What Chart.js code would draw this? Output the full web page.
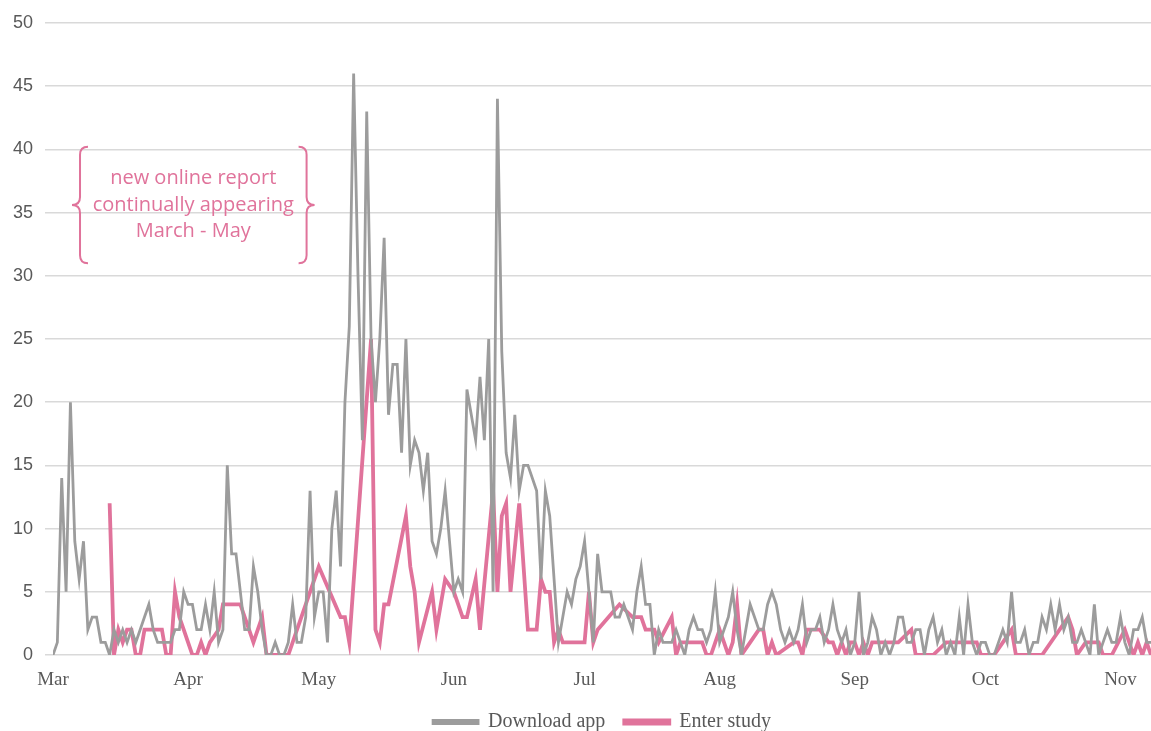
<!DOCTYPE html>
<html>
<head>
<meta charset="utf-8">
<script src="https://cdn.jsdelivr.net/npm/chart.js@4.4.1/dist/chart.umd.min.js"></script>
<style>
  html, body { margin: 0; padding: 0; background: #fff; overflow: hidden; }
  #wrap { width: 1151px; height: 742px; position: relative; }
</style>
</head>
<body>
<div id="wrap"><canvas id="chart-downloads"></canvas></div>
<script>
'use strict';

/* ── Data (one value per day, 1 Mar .. 8 Nov) ───────────────── */
const monthLabels = ['Mar', 'Apr', 'May', 'Jun', 'Jul', 'Aug', 'Sep', 'Oct', 'Nov'];
const monthStartDay = [0, 31, 61, 92, 122, 153, 184, 214, 245];

const downloadApp = [
    0, 1, 14, 5, 20, 9, 6, 9, 2, 3,
    3, 1, 1, 0, 2, 1, 2, 1, 2, 1,
    2, 3, 4, 2, 1, 1, 1, 1, 2, 2,
    5, 4, 4, 2, 2, 4, 2, 5, 1, 2,
    15, 8, 8, 5, 2, 2, 7, 5, 2, 0,
    0, 1, 0, 0, 1, 4, 1, 1, 3, 13,
    3, 5, 5, 1, 10, 13, 7, 20, 26, 46,
    30, 17, 43, 25, 20, 25, 33, 19, 23, 23,
    16, 25, 15, 17, 16, 13, 16, 9, 8, 10,
    13, 9, 5, 6, 5, 21, 19, 17, 22, 17,
    25, 5, 44, 24, 16, 14, 19, 13, 15, 15,
    14, 13, 6, 13, 11, 6, 1, 3, 5, 4,
    6, 7, 9, 5, 1, 8, 5, 5, 5, 3,
    3, 4, 3, 2, 5, 7, 4, 4, 0, 2,
    1, 1, 1, 2, 1, 0, 2, 3, 2, 2,
    1, 2, 5, 1, 2, 3, 5, 2, 0, 2,
    4, 3, 2, 2, 4, 5, 4, 2, 1, 2,
    1, 2, 4, 1, 2, 2, 3, 1, 2, 4,
    2, 1, 2, 0, 1, 5, 0, 1, 3, 2,
    0, 1, 0, 1, 3, 3, 1, 1, 2, 2,
    0, 2, 3, 1, 2, 0, 1, 0, 3, 0,
    4, 1, 0, 1, 1, 0, 0, 1, 2, 1,
    5, 1, 1, 2, 0, 1, 1, 3, 2, 4,
    2, 4, 2, 3, 1, 1, 2, 1, 0, 4,
    0, 1, 2, 1, 1, 3, 1, 0, 2, 2,
    3, 1, 1
];

// null = no entry that day (line is carried straight across)
const enterStudy = [
    null, null, null, null, null, null, null, null, null, null,
    null, null, null, 12, 0, 2, 1, 2, 2, 0,
    0, 2, 2, 2, 2, 2, 0, 0, 5, 3,
    2, 1, 0, 0, 1, 0, 1, null, 2, 4,
    4, 4, 4, 4, 3, 2, 1, 2, 3, 0,
    0, 0, 0, 0, 0, null, null, null, null, null,
    null, 7, null, null, null, null, 3, 3, 1, null,
    null, null, null, 25, 2, 1, 4, 4, null, null,
    null, 11, 7, 5, 1, null, null, 5, 2, null,
    6, null, 5, null, 3, 3, null, 6, 2, null,
    null, 13, 5, 11, 12, 5, null, 12, null, 2,
    2, 2, 6, 5, 5, 1, 2, 1, 1, 1,
    1, 1, 1, 5, 1, 2, null, null, null, null,
    4, null, null, 3, 3, 3, 2, 2, 2, 1,
    null, null, 3, 0, 1, 1, 1, 1, 1, 1,
    0, 0, 1, 2, 1, 0, 1, 4, 0, null,
    1, null, 2, 2, 0, 1, 0, null, null, null,
    1, 1, 0, 2, 2, 2, 2, null, 1, 1,
    0, 1, 0, 1, 1, 0, 1, 0, 1, 1,
    1, 1, 1, 1, 1, null, null, 2, 0, 0,
    0, 0, 0, null, null, 1, 1, 1, 1, 1,
    1, 1, 1, 0, 0, 0, 0, null, 1, null,
    2, 0, 0, 0, 0, 0, 0, 0, null, null,
    null, null, null, 3, 2, 0, null, 1, 1, 1,
    1, 0, 0, 0, null, null, 2, null, 0, 1,
    0, 1, 0
];

const seriesNames = ['Download app', 'Enter study'];
const noteLines = ['new online report', 'continually appearing', 'March - May'];

/* ── Colours ─────────────────────────────────────────────────── */
const GRAY = '#9c9c9c';
const PINK = '#e0739b';
const TEXT = '#595959';
const GRID = '#d9d9d9';

const toPoints = arr => arr.map((v, i) => ({ x: i, y: v }));

/* ── Bracketed note (drawn on top of the chart area) ─────────── */
function drawBrace(ctx, x, y0, y1, dir) {
    const mid = (y0 + y1) / 2, r = 8;
    ctx.beginPath();
    ctx.moveTo(x - dir * r, y0);
    ctx.quadraticCurveTo(x, y0, x, y0 + r);
    ctx.lineTo(x, mid - r);
    ctx.quadraticCurveTo(x, mid, x + dir * r, mid);
    ctx.quadraticCurveTo(x, mid, x, mid + r);
    ctx.lineTo(x, y1 - r);
    ctx.quadraticCurveTo(x, y1, x - dir * r, y1);
    ctx.stroke();
}

const notePlugin = {
    id: 'note',
    afterDatasetsDraw(chart) {
        const { ctx, scales: { x, y } } = chart;
        const left = x.getPixelForValue(6.2), right = x.getPixelForValue(58.2);
        const top = y.getPixelForValue(40.2), bottom = y.getPixelForValue(31.0);
        ctx.save();
        ctx.strokeStyle = PINK;
        ctx.lineWidth = 2;
        drawBrace(ctx, left, top, bottom, -1);
        drawBrace(ctx, right, top, bottom, 1);
        ctx.fillStyle = PINK;
        ctx.font = '20px "Open Sans", sans-serif';
        ctx.textAlign = 'center';
        ctx.textBaseline = 'middle';
        const cx = (left + right) / 2;
        const cy = (top + bottom) / 2;
        noteLines.forEach((t, i) => ctx.fillText(t, cx, cy + (i - 1) * 26.5));
        ctx.restore();
    }
};

/* ── Chart ───────────────────────────────────────────────────── */
const config = {
    type: 'line',
    data: {
        datasets: [
            { label: seriesNames[0], data: toPoints(downloadApp), borderColor: GRAY, backgroundColor: GRAY, borderWidth: 2.8, pointRadius: 0, tension: 0 },
            { label: seriesNames[1], data: toPoints(enterStudy), borderColor: PINK, backgroundColor: PINK, borderWidth: 3.8, pointRadius: 0, tension: 0, spanGaps: true },
        ]
    },
    options: {
        responsive: true, maintainAspectRatio: false, animation: false,
        layout: { padding: { top: 23, right: 0, bottom: 0, left: 0 } },
        scales: {
            x: {
                type: 'linear', min: 0, max: downloadApp.length - 1,
                afterBuildTicks: s => { s.ticks = monthStartDay.map(v => ({ value: v })); },
                afterFit: s => { s.height = 38; },
                ticks: {
                    autoSkip: false, maxRotation: 0, padding: 14, color: TEXT,
                    font: { family: 'Liberation Serif', size: 19 },
                    callback: v => monthLabels[monthStartDay.indexOf(v)]
                },
                grid: { display: false, drawTicks: false },
                border: { display: false }
            },
            y: {
                min: 0, max: 50,
                afterFit: s => { s.width = 53; },
                ticks: { stepSize: 5, padding: 12, color: TEXT, font: { family: 'Liberation Sans', size: 18 } },
                grid: { color: GRID, lineWidth: 1.5, drawTicks: true, tickLength: 8, tickColor: GRID },
                border: { display: false }
            }
        },
        plugins: {
            legend: {
                position: 'bottom', fullSize: false,
                labels: { boxWidth: 45, boxHeight: 3, padding: 19, color: TEXT, font: { family: 'Liberation Serif', size: 20 } }
            },
            tooltip: { enabled: false }
        }
    },
    plugins: [notePlugin]
};

new Chart(document.getElementById('chart-downloads'), config);
</script>
</body>
</html>
